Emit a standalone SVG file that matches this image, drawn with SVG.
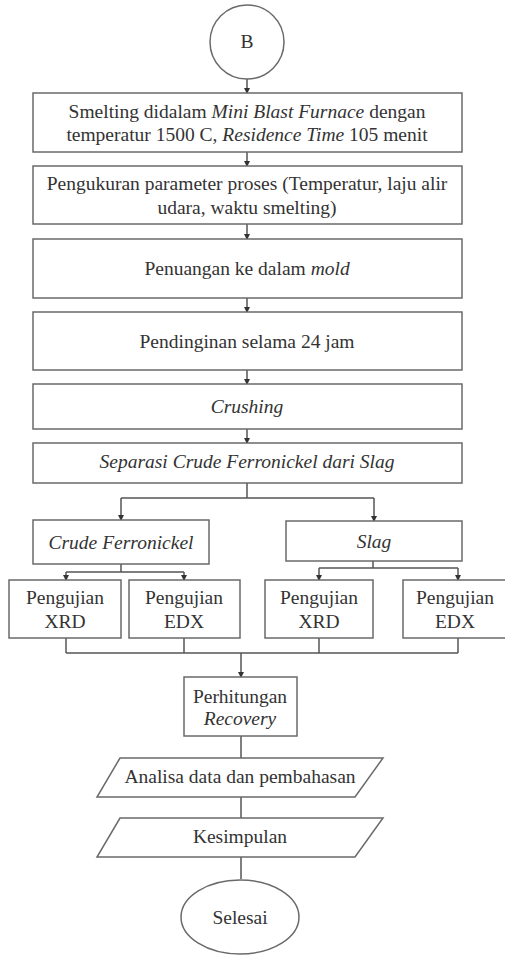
<svg xmlns="http://www.w3.org/2000/svg" width="505" height="955" viewBox="0 0 505 955">
<style>
.s{fill:#fff;stroke:#6a6a6a;stroke-width:1.5}
.c{fill:none;stroke:#555;stroke-width:1.5}
</style>
<defs>
<marker id="a" markerWidth="6" markerHeight="6" refX="5" refY="3" orient="auto" markerUnits="userSpaceOnUse">
<path d="M0,0 L6,3 L0,6 Z" fill="#333"/>
</marker>
</defs>
<rect width="505" height="955" fill="#fff"/>
<g id="connectors">
<path class="c" d="M247,79 V93" marker-end="url(#a)"/>
<path class="c" d="M247,152 V166" marker-end="url(#a)"/>
<path class="c" d="M247,224 V239" marker-end="url(#a)"/>
<path class="c" d="M247,298 V312" marker-end="url(#a)"/>
<path class="c" d="M247,370 V384" marker-end="url(#a)"/>
<path class="c" d="M247,429 V443" marker-end="url(#a)"/>
<path class="c" d="M247,483 V498 M121,498 H374"/>
<path class="c" d="M121,498 V520" marker-end="url(#a)"/>
<path class="c" d="M374,498 V521" marker-end="url(#a)"/>
<path class="c" d="M121,564 V572 M66,572 H184"/>
<path class="c" d="M66,572 V580" marker-end="url(#a)"/>
<path class="c" d="M184,572 V580" marker-end="url(#a)"/>
<path class="c" d="M373,561 V568 M319,568 H458"/>
<path class="c" d="M319,568 V580" marker-end="url(#a)"/>
<path class="c" d="M458,568 V580" marker-end="url(#a)"/>
<path class="c" d="M66,638 V653 M184,638 V653 M319,638 V653 M458,638 V653 M66,653 H458"/>
<path class="c" d="M241,653 V677" marker-end="url(#a)"/>
<path class="c" d="M241,736 V758 M241,797 V818 M241,857 V879"/>
</g>
<g font-family="Liberation Serif" font-size="19.5" fill="#333" text-anchor="middle">
<g id="start"><circle class="s" cx="247" cy="42" r="37"/><text x="247" y="48" font-family="Liberation Serif">B</text></g>
<g id="smelting"><rect class="s" x="33" y="93" width="429" height="59"/>
<text x="247" y="118" font-family="Liberation Serif">Smelting didalam <tspan font-style="italic">Mini Blast Furnace</tspan> dengan</text>
<text x="247" y="141" font-family="Liberation Serif">temperatur 1500 C, <tspan font-style="italic">Residence Time</tspan> 105 menit</text></g>
<g id="pengukuran"><rect class="s" x="33" y="166" width="429" height="58"/>
<text x="247" y="190" font-family="Liberation Serif">Pengukuran parameter proses (Temperatur, laju alir</text>
<text x="247" y="214" font-family="Liberation Serif">udara, waktu smelting)</text></g>
<g id="penuangan"><rect class="s" x="33" y="239" width="429" height="59"/>
<text x="247" y="275" font-family="Liberation Serif">Penuangan ke dalam <tspan font-style="italic">mold</tspan></text></g>
<g id="pendinginan"><rect class="s" x="33" y="312" width="429" height="58"/>
<text x="247" y="348" font-family="Liberation Serif">Pendinginan selama 24 jam</text></g>
<g id="crushing"><rect class="s" x="33" y="384" width="429" height="45"/>
<text x="247" y="413" font-family="Liberation Serif" font-style="italic">Crushing</text></g>
<g id="separasi"><rect class="s" x="33" y="443" width="429" height="40"/>
<text x="247" y="468" font-family="Liberation Serif" font-style="italic">Separasi Crude Ferronickel dari Slag</text></g>
<g id="crude"><rect class="s" x="33" y="520" width="176" height="44"/>
<text x="121" y="549" font-family="Liberation Serif" font-style="italic">Crude Ferronickel</text></g>
<g id="slag"><rect class="s" x="286" y="521" width="176" height="40"/>
<text x="374" y="548" font-family="Liberation Serif" font-style="italic">Slag</text></g>
<g id="xrd1"><rect class="s" x="9" y="580" width="112" height="58"/>
<text x="65" y="604" font-family="Liberation Serif">Pengujian</text><text x="65" y="628" font-family="Liberation Serif">XRD</text></g>
<g id="edx1"><rect class="s" x="129" y="580" width="111" height="58"/>
<text x="184" y="604" font-family="Liberation Serif">Pengujian</text><text x="184" y="628" font-family="Liberation Serif">EDX</text></g>
<g id="xrd2"><rect class="s" x="265" y="580" width="108" height="58"/>
<text x="319" y="604" font-family="Liberation Serif">Pengujian</text><text x="319" y="628" font-family="Liberation Serif">XRD</text></g>
<g id="edx2"><rect class="s" x="403" y="580" width="104" height="58"/>
<text x="455" y="604" font-family="Liberation Serif">Pengujian</text><text x="455" y="628" font-family="Liberation Serif">EDX</text></g>
<g id="perhitungan"><rect class="s" x="184" y="677" width="113" height="59"/>
<text x="240" y="703" font-family="Liberation Serif">Perhitungan</text><text x="240" y="725" font-family="Liberation Serif" font-style="italic">Recovery</text></g>
<g id="analisa"><polygon class="s" points="120,758 383,758 355,797 97,797"/>
<text x="240" y="783" font-family="Liberation Serif">Analisa data dan pembahasan</text></g>
<g id="kesimpulan"><polygon class="s" points="120,818 383,818 355,857 97,857"/>
<text x="240" y="843" font-family="Liberation Serif">Kesimpulan</text></g>
<g id="selesai"><ellipse class="s" cx="240" cy="917" rx="59" ry="37"/>
<text x="240" y="924" font-family="Liberation Serif">Selesai</text></g>
</g>
</svg>
